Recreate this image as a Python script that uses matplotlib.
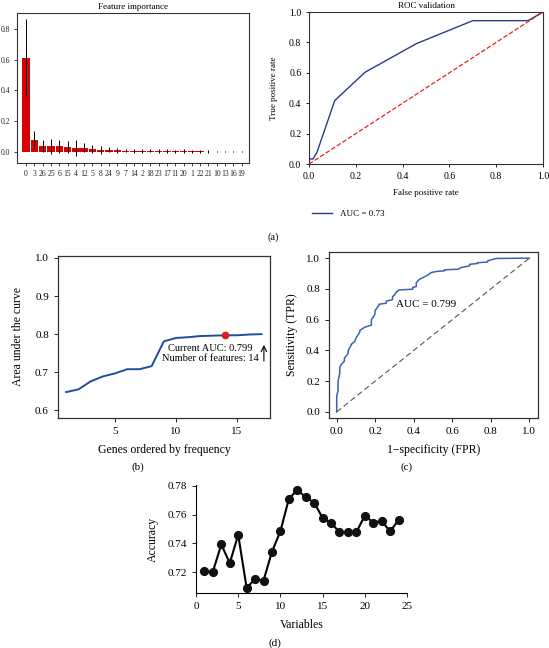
import numpy as np
import matplotlib
matplotlib.use('Agg')
import matplotlib.pyplot as plt

plt.rcParams['font.family'] = ['Liberation Serif', 'DejaVu Serif']
plt.rcParams['mathtext.fontset'] = 'stix'

W, H = 549, 648

# (a) feature importance
feat_labels = ['0', '3', '26', '25', '6', '15', '4', '12', '5', '8', '24', '9', '7', '14',
               '2', '18', '23', '17', '11', '20', '1', '22', '21', '10', '13', '16', '19']
feat_imp = [0.613, 0.078, 0.039, 0.035, 0.035, 0.033, 0.026, 0.026, 0.017, 0.013, 0.013,
            0.009, 0.007, 0.006, 0.006, 0.005, 0.005, 0.005, 0.004, 0.004, 0.004, 0.004,
            0.0005, 0.0003, 0.0002, 0.0001, 0.0]
feat_err = [0.252, 0.06, 0.04, 0.05, 0.043, 0.04, 0.052, 0.031, 0.026, 0.026, 0.017,
            0.017, 0.012, 0.012, 0.012, 0.01, 0.012, 0.012, 0.01, 0.012, 0.01, 0.01,
            0.008, 0.005, 0.003, 0.003, 0.002]

# (a) ROC validation
roc_fpr = [0.0, 0.017, 0.034, 0.11, 0.239, 0.459, 0.70, 0.936, 1.0]
roc_tpr = [0.033, 0.033, 0.077, 0.417, 0.603, 0.792, 0.943, 0.943, 1.0]

# (b) AUC vs number of genes
genes_n = list(range(1, 18))
genes_auc = [0.648, 0.655, 0.676, 0.689, 0.697, 0.708, 0.708, 0.716, 0.781, 0.790,
             0.792, 0.795, 0.796, 0.797, 0.797, 0.799, 0.800]

# (c) ROC curve
c_fpr = [0.0, 0.0, 0.007, 0.007, 0.016, 0.016, 0.025, 0.04, 0.04, 0.06, 0.06, 0.076,
         0.076, 0.093, 0.10, 0.12, 0.12, 0.145, 0.18, 0.18, 0.197, 0.20, 0.22, 0.22,
         0.257, 0.257, 0.29, 0.29, 0.30, 0.31, 0.323, 0.395, 0.395, 0.413, 0.413, 0.43,
         0.45, 0.473, 0.49, 0.516, 0.56, 0.56, 0.63, 0.646, 0.69, 0.69, 0.73, 0.73,
         0.784, 0.784, 0.827, 1.0]
c_tpr = [0.0, 0.10, 0.14, 0.20, 0.25, 0.29, 0.31, 0.33, 0.35, 0.38, 0.40, 0.435, 0.44,
         0.457, 0.48, 0.52, 0.53, 0.55, 0.565, 0.60, 0.63, 0.66, 0.695, 0.70, 0.707,
         0.72, 0.73, 0.75, 0.76, 0.78, 0.793, 0.798, 0.81, 0.815, 0.84, 0.863, 0.875,
         0.89, 0.906, 0.913, 0.918, 0.924, 0.928, 0.939, 0.95, 0.96, 0.965, 0.97, 0.975,
         0.983, 0.998, 1.0]

# (d) accuracy vs number of variables
var_n = list(range(1, 25))
var_acc = [0.7207, 0.7205, 0.7393, 0.7264, 0.746, 0.7092, 0.7154, 0.7143, 0.7343,
           0.7485, 0.7708, 0.7772, 0.7720, 0.7683, 0.7577, 0.7543, 0.7478, 0.7478,
           0.7478, 0.7593, 0.7545, 0.7556, 0.7483, 0.7563]


def px_axes(fig, left, top, right, bottom):
    return fig.add_axes([left / W, 1 - bottom / H, (right - left) / W, (bottom - top) / H])


def px_text(fig, x, y, s, **kw):
    fig.text(x / W, 1 - y / H, s, ha='center', va='center', **kw)


fig = plt.figure(figsize=(W / 100, H / 100), dpi=100)

# ---- (a) left: feature importance
ax1 = px_axes(fig, 17, 13, 249, 163)
pos = np.arange(len(feat_labels))
ax1.bar(pos, feat_imp, width=0.9, color='#d90000', yerr=feat_err,
        error_kw=dict(ecolor='black', elinewidth=0.7, capsize=0))
ax1.set_xlim(-1.1, 26.9)
ax1.set_ylim(-0.074, 0.906)
ax1.set_xticks(pos)
ax1.set_xticklabels(feat_labels)
ax1.set_yticks([0.0, 0.2, 0.4, 0.6, 0.8])
ax1.tick_params(labelsize=5.5, length=2, width=0.6, pad=3, colors='#222222')
ax1.set_title('Feature importance', fontsize=6.5, pad=3)
for s in ax1.spines.values():
    s.set_linewidth(0.8)
    s.set_color('#333333')

# ---- (a) right: ROC validation
ax2 = px_axes(fig, 309, 12, 543, 164)
ax2.plot(roc_fpr, roc_tpr, color='#2b3a8c', lw=1.0, label='AUC = 0.73')
ax2.plot([0, 1], [0, 1], color='#e8231f', lw=0.9, ls='--')
ax2.set_xlim(0, 1)
ax2.set_ylim(0, 1)
ax2.set_xticks(np.arange(0, 1.01, 0.2))
ax2.set_yticks(np.arange(0, 1.01, 0.2))
ax2.tick_params(labelsize=7, length=2, width=0.6)
ax2.set_title('ROC validation', fontsize=6.5, pad=3)
ax2.set_xlabel('False positive rate', fontsize=6.5, labelpad=6)
ax2.set_ylabel('True positive rate', fontsize=6.5, labelpad=8)
ax2.legend(loc='center left', bbox_to_anchor=(-0.02, -0.33), frameon=False,
           fontsize=6.5, handlelength=2.2)
for s in ax2.spines.values():
    s.set_linewidth(0.8)
    s.set_color('#333333')

px_text(fig, 273, 237, '(a)', fontsize=7.5)

# ---- (b) AUC vs genes
ax3 = px_axes(fig, 58, 256, 270, 418)
ax3.plot(genes_n, genes_auc, color='#1f4e9c', lw=1.4)
ax3.plot(genes_n[13], genes_auc[13], 'o', color='#e11b1b', ms=4.5)
ax3.text(12.8, 0.75, 'Current AUC: 0.799\nNumber of features: 14', ha='center',
         va='center', fontsize=7.5, linespacing=1.15)
ax3.annotate('', xy=(17.2, 0.779), xytext=(17.2, 0.722),
             arrowprops=dict(arrowstyle='->', lw=0.8, color='black'))
ax3.set_xlim(0.33, 17.7)
ax3.set_ylim(0.58, 1.005)
ax3.set_xticks([5, 10, 15])
ax3.set_yticks([0.6, 0.7, 0.8, 0.9, 1.0])
ax3.tick_params(labelsize=8, length=3, width=0.6)
ax3.set_xlabel('Genes ordered by frequency', fontsize=8.5, labelpad=6)
ax3.set_ylabel('Area under the curve', fontsize=8.5, labelpad=8)
for s in ax3.spines.values():
    s.set_linewidth(0.9)
    s.set_color('#333333')
px_text(fig, 138, 467, '(b)', fontsize=8)

# ---- (c) ROC curve
ax4 = px_axes(fig, 329, 252, 538, 418)
ax4.plot(c_fpr, c_tpr, color='#3b63b0', lw=1.1)
ax4.plot([0, 1], [0, 1], color='#555555', lw=0.8, ls=(0, (5, 3)))
ax4.text(0.31, 0.70, 'AUC = 0.799', ha='left', va='center', fontsize=8)
ax4.set_xlim(-0.04, 1.045)
ax4.set_ylim(-0.04, 1.04)
ax4.set_xticks(np.arange(0, 1.01, 0.2))
ax4.set_yticks(np.arange(0, 1.01, 0.2))
ax4.xaxis.set_major_formatter(matplotlib.ticker.FormatStrFormatter('%.1f'))
ax4.yaxis.set_major_formatter(matplotlib.ticker.FormatStrFormatter('%.1f'))
ax4.tick_params(labelsize=8, length=3, width=0.6)
ax4.set_xlabel('1\u2212specificity (FPR)', fontsize=8.5, labelpad=6)
ax4.set_ylabel('Sensitivity (TPR)', fontsize=8.5, labelpad=6)
for s in ax4.spines.values():
    s.set_linewidth(0.9)
    s.set_color('#333333')
px_text(fig, 407, 467, '(c)', fontsize=8)

# ---- (d) accuracy
ax5 = px_axes(fig, 196, 485, 407, 593)
ax5.plot(var_n, var_acc, color='black', lw=1.5, marker='o', ms=5.6,
         markerfacecolor='#111111', markeredgecolor='#111111')
ax5.set_xlim(0, 25)
ax5.set_ylim(0.7057, 0.7805)
ax5.set_xticks([0, 5, 10, 15, 20, 25])
ax5.set_yticks([0.72, 0.74, 0.76, 0.78])
ax5.tick_params(labelsize=8, length=3, width=0.6)
ax5.spines['top'].set_visible(False)
ax5.spines['right'].set_visible(False)
ax5.set_xlabel('Variables', fontsize=8.5, labelpad=6)
ax5.set_ylabel('Accuracy', fontsize=8.5, labelpad=6)
px_text(fig, 275, 643, '(d)', fontsize=8)

fig.savefig('out.png', dpi=100)
